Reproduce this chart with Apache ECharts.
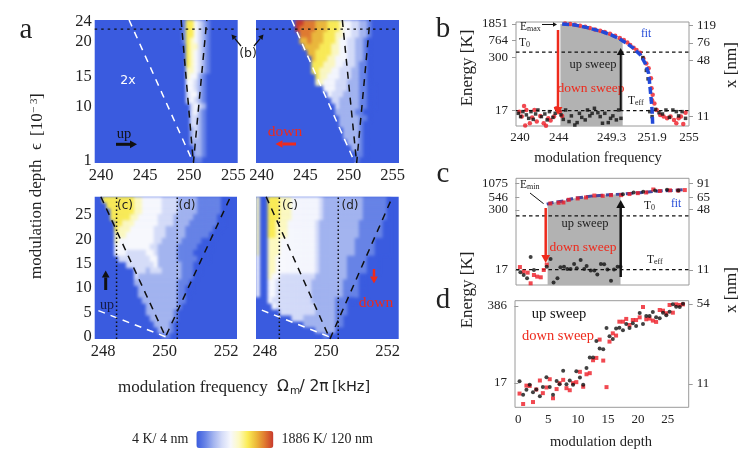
<!DOCTYPE html>
<html>
<head>
<meta charset="utf-8">
<style>
html,body{margin:0;padding:0;background:#fff}
#page{position:relative;width:747px;height:452px;overflow:hidden}
#heatClip{position:absolute;left:0;top:0;width:747px;height:452px;background:#3a5bdf;
	clip-path:path('M94.7 20h143v143h-143z M256 20h143v143h-143z M94.7 196.7h142.3v142.3h-142.3z M256 196.7h142.7v142.3h-142.7z')}
#heat{width:747px;height:452px;filter:blur(1.5px)}
#main{position:absolute;left:0;top:0;width:747px;height:452px}
</style>
<script src="https://cdn.jsdelivr.net/npm/echarts@6/dist/echarts.min.js"></script>
</head>
<body>
<div id="page">
	<div id="heatClip"><div id="heat"></div></div>
	<div id="main"></div>
</div>
<script>
// colour levels of the maps, 0 = cold ... 9 = hot
var levelColors = ['#3a5bdf','#6783e6','#a3b4ef','#d5dcf8','#f7f8fd','#fdf9c0','#fbec55','#ecb83a','#e07a30','#c8382c'];

// maps: first coloured column of each row (top row first) and its levels
var upTopStart = [22,22,22,22,23,23,23,23,23,23,23,23,23,23,24,24,24,24,24,24,24,25,25,25];
var upTopRows = ['1664321','1664321','1664321','1654321','655321','654321','654321','654321','554321','54421','44321','44321','34421','34321','3432','3421','3321','3321','2321','2321','2221','221','221','11'];
var downTopStart = [10,10,11,11,12,13,14,14,14,15,15,17,18,19,20,20,21,21,22,22,23,24,25,25];
var downTopRows = ['9988877766654433221','9888877766654433221','888777666554433221','778777666544332210','77776665544332210','7766665544332210','766655444332210','666555443332110','665554433322110','65544433322110','55444333222110','4443332221100','433322221100','33222221100','3222221100','222221100','22222110','2222210','222210','222210','22210','2210','110','1'];
var upBottomStart = [2,3,4,4,5,5,5,5,5,5,6,8,10,10,10,11,11,12,13,13,14,15,16,17];
var upBottomRows = ['66666666554444433332222211111100','6666666554444433332222211111100','666666554444433332222211111100','66666554444433332222211111100','6655544444433332222111111100','655544444433322222111111100','55544444443332222211111100','5444444444332222211111000','4444444443322222111110000','444333334432222211110000','33333333442222211111000','3333333422222211100','33323332222211100','3222222222221110','222222222221110','22222222221100','2222222222110','22222222211','222222221','22222221','2222221','22221','2221','11'];
var downBottomStart = [0,0,0,0,0,0,0,0,0,0,0,0,0,0,0,0,0,0,4,6,9,12,15,17];
var downBottomRows = ['5006665554444444322222222221111110','5006665554444444322222222221111110','5006665554444444322222222221111110','5006665554444444322222222221111110','5006655544444443222222222211111100','5006655544444443222222222211111100','5006655544444443222222222211111100','5005554444444443222222222111110000','5005554444444443222222222111110000','5005554444444443222222222111110000','4005544444444443222222211111000','4005544444444443222222211111000','4005544444444443222222211111000','4005443333333332222222211100','4004433333333322222222111100','4004433333333322222222111100','4004433333333322222222111100','0004333333333322222211100','4333333333322222111','33333333322222111','3332222222211','2222222211','22222','1'];

// guide lines of the maps [frequency, depth]
var upTopWhite = [[243.17,24.3],[250.47,0.67]];
var upTopBlack = [[249.08,24.3],[250.47,0.67],[251.99,24.3]];
var downTopWhite = [[243.44,24.3],[250.69,0.67]];
var downTopBlack = [[249.24,24.3],[250.88,0.67],[252.4,24.3]];
var cutDepth = 22.8;
var upBottomWhite = [[247.85,5.4],[250.03,0.07]];
var upBottomBlack = [[247.93,28.7],[250.03,0.07],[252.14,28.7]];
var downBottomWhite = [[247.9,5.5],[250.12,0]];
var downBottomBlack = [[248.04,28.7],[250.12,-0.4],[252.16,28.7]];
var upCutC = 248.44, upCutD = 250.41, downCutC = 248.47, downCutD = 250.39;

// tick labels
var topFreqTicks = [240,245,250,255];
var bottomFreqTicks = [248,250,252];
var topDepthPos = [1,3.5,10,15,20.8,24];
var topDepthLabels = ['1','5','10','15','20','24'];
var bottomDepthTicks = [0,5,10,15,20,25];
var bFreqPos = [240.35,243.7,248.3,251.8,255];
var bFreqLabels = ['240','244','249.3','251.9','255'];
var bEnergyTicks = [17,300,764,1851];
var bSizeTicks = [11,48,76,119];
var cEnergyTicks = [17,300,546,1075];
var cSizeTicks = [11,48,65,91];
var dEnergyTicks = [17,386];
var dSizeTicks = [11,54];
var dDepthTicks = [0,5,10,15,20,25];

// panel b
var bBlackFreq = [240.2,240.4,240.6,240.9,241.1,241.3,241.5,241.7,241.9,242.2,242.5,242.7,242.9,243.2,243.4,243.7,243.9,244.1,244.3,244.6,244.8,245.1,245.3,245.5,245.7,246.0,246.2,246.4,246.6,246.8,247.1,247.3,247.5,247.7,248.0,248.2,248.4,248.7,248.9,249.1,251.6,251.8,252.1,252.4,252.7,253.0,253.3,253.6,253.9,254.1,254.4,254.7,251.0,251.3,251.45];
var bBlackEnergy = [14.7,12.3,16.1,13.5,11.2,16.1,10.6,14.2,17.6,12.3,14.2,10.3,16.1,11.8,14.7,17.6,13.5,10.6,17.6,9.4,12.8,7.8,8.9,14.7,11.8,10.3,17.6,12.8,14.7,19.3,15.2,12.3,8.6,14.7,8.9,11.2,12.8,10.3,17.6,11.2,16.1,12.3,18.2,15.2,14.2,17.6,11.8,17.6,16.1,12.8,16.1,11.2,300,150,95];
var bRedFreq = [240.3,240.5,240.7,240.9,240.8,241.2,241.4,241.6,241.8,242.1,242.4,242.6,242.8,243.0,243.3,243.5,243.8,244.0,251.8,252.0,252.2,252.5,252.8,253.1,253.4,253.7,253.9,254.1,254.3,254.5,254.7,244.25,244.7,245.1,245.55,246,246.4,246.85,247.3,247.7,248.15,248.6,249,249.35,249.65,249.9,250.2,250.45,250.75,251.05,251.3,251.5,251.7,251.75,251.85];
var bRedEnergy = [16.1,12.3,21.9,17.6,7.6,8.6,11.8,17.6,9.4,12.8,8.6,7.5,11.2,10,12.3,19.3,16.1,12.8,30,25,17.6,13.5,12.3,11.2,12.3,10.3,8.6,11.2,12.3,8.3,15.2,1900,1840,1777,1681,1593,1483,1378,1283,1195,1091,979,864,775,683,591,512,451,390,287,219,168,98,57,40];
var bFitFreq = [244.0,245.0,246.1,247.3,248.3,249.0,249.6,250.2,250.8,251.2,251.5,251.6,251.7,251.8,251.85];
var bFitEnergy = [1840,1777,1537,1260,1015,818,647,494,344,219,128,68,36,17.6,7.8];
var bGrayFreq = [243.85,245.0,246.1,247.3,248.3,249.0,249.25];
var bGrayEnergy = [1840,1777,1537,1260,1015,818,760];
var bColdLevel = 17, bHotLevel = 405;

// panel c
var cBlackDepth = [0.17,0.73,1.3,1.9,2.45,4.6,5.25,5.75,6.4,6.9,7.5,8.05,8.6,9.2,9.65,10.3,10.9,11.3,12,12.6,13.1,13.7,14.25,14.8,15.4,15.9,16.5,17,17.4,19.2,20.8,22.8,24.8,26.7];
var cBlackEnergy = [15.2,13.4,11.4,31.6,17,19.9,28.7,9.4,11.4,19.3,19.9,17.8,17.8,22.6,18.4,27.4,17.8,20.6,16.7,16.7,13.8,22.6,22.3,17.5,10.2,17.5,19.9,19.9,642,695,720,760,790,765];
var cRedDepth = [0.1,0.73,1.4,1.9,2.45,3,3.6,4.1,4.6,5.2,6.6,7.4,8.3,9.8,11.2,12.6,14,15.4,17.1,18.5,19.9,21.3,22.5,23.6,25.3,26.7,27.8];
var cRedEnergy = [19.6,15.7,15,9,13.4,12.4,12,17,22,410,425,431,490,522,548,600,592,612,612,645,673,695,802,745,770,760,780];
var cFitDepth = [4.6,5.7,7.4,9.05,10.7,12.4,14.1,15.75,17.4,19.1,20.8,22.5,24.1,25.8,27.9];
var cFitEnergy = [398,431,460,522,556,592,612,632,642,673,695,729,752,765,802];
var cGrayDepth = [4.75,5.7,7.4,9.05,10.7,12.4,14.1,15.75,17];
var cGrayEnergy = [398,431,460,522,556,592,612,632,640];
var cColdLevel = 17.4, cHotLevel = 227;

// panel d
var dDepth = [0.2,0.8,1.35,1.9,2.45,3,3.6,4.1,4.7,5.25,5.8,6.4,6.9,7.5,8.05,8.6,9.15,9.7,10.3,10.85,11.4,11.95,12.5,13.05,13.6,14.2,14.75,15.25,15.8,16.35,16.9,17.5,18.05,18.6,19.15,19.7,20.3,20.85,21.4,21.95,22.5,23.05,23.65,24.2,24.75,25.3,25.85,26.4,27,27.55];
var dUpEnergy = [18.2,10.5,12.8,15.7,11.6,13,9.9,14.3,21.4,14.3,10.5,18.4,16.1,27.7,16.1,18.7,15.7,27.3,21.1,15.7,31.2,47.5,47.5,93.3,68.4,66.5,158,113,101,154,160,144,186,158,191,171,290,186,257,257,302,243,234,294,264,306,412,375,370,424];
var dDownEnergy = [11,7.2,15.2,15,7.8,13,18.7,11.2,14.1,19.7,9.1,13.2,16.8,19.2,13.7,12.6,16.8,17.5,26.6,14.5,24.1,25.2,42.6,46.8,98.5,42,14.3,90.8,127,116,204,204,228,178,218,218,243,370,225,231,213,202,328,319,287,401,294,412,401,412];

var serif = '"Liberation Serif"';
var sans = '"DejaVu Sans"';
var ink = '#222';

function zip(a, b) {
	var out = [];
	for (var i = 0; i < a.length; i++) {
		out.push([a[i], b[i]]);
	}
	return out;
}

function heatCells(starts, rows) {
	var cells = [];
	rows.forEach(function(row, r) {
		for (var c = 0; c < row.length; c++) {
			cells.push([starts[r] + c, r, +row[c]]);
		}
	});
	return cells;
}

function numbers(n) {
	var list = [];
	for (var i = 0; i < n; i++) {
		list.push(i);
	}
	return list;
}

var mapGrids = [
	{left: 94.7, top: 20, width: 143, height: 143},
	{left: 256, top: 20, width: 143, height: 143},
	{left: 94.7, top: 196.7, width: 142.3, height: 142.3},
	{left: 256, top: 196.7, width: 142.7, height: 142.3}
];
var plotGrids = [
	{left: 516, top: 22, width: 173, height: 104},
	{left: 516, top: 178.3, width: 173, height: 106.7},
	{left: 515, top: 300.7, width: 173.7, height: 106.6}
];
plotGrids.forEach(function(g) {
	g.show = true;
	g.borderWidth = 1;
	g.borderColor = '#9a9a9a';
});

function mapAxis(grid, min, max, ticks, opts) {
	var labels = opts.labels;
	return {
		type: 'value', gridIndex: grid, min: min, max: max,
		splitLine: {show: false}, axisLine: {show: false}, axisTick: {show: false},
		axisLabel: {
			show: opts.show !== false, showMinLabel: true, showMaxLabel: true,
			customValues: ticks, margin: opts.margin, fontFamily: serif, fontSize: 16.5, color: ink,
			formatter: function(v) { return labels ? labels[ticks.indexOf(v)] : String(v); }
		}
	};
}

function catAxis(grid, n, inverse) {
	return {type: 'category', gridIndex: grid, data: numbers(n), show: false, inverse: !!inverse};
}

function sideAxis(grid, min, max, ticks, position, margin) {
	return {
		type: 'log', logBase: 10, gridIndex: grid, min: min, max: max, position: position,
		splitLine: {show: false}, axisLine: {show: false},
		axisTick: {show: true, length: 4, inside: false, customValues: ticks, lineStyle: {color: '#9a9a9a'}},
		axisLabel: {
			showMinLabel: true, showMaxLabel: true, customValues: ticks, margin: margin,
			fontFamily: serif, fontSize: 13, color: ink,
			formatter: function(v) { return String(Math.round(v)); }
		}
	};
}

var xAxes = [
	mapAxis(0, 239.27, 255.5, topFreqTicks, {margin: 4}),
	mapAxis(1, 239.35, 255.73, topFreqTicks, {margin: 4}),
	mapAxis(2, 247.73, 252.35, bottomFreqTicks, {margin: 4}),
	mapAxis(3, 247.71, 252.36, bottomFreqTicks, {margin: 4}),
	{
		type: 'value', gridIndex: 4, min: 240, max: 255, splitLine: {show: false}, axisLine: {show: false},
		axisTick: {show: false},
		axisLabel: {showMinLabel: true, showMaxLabel: true, customValues: bFreqPos, margin: 5, fontFamily: serif, fontSize: 13, color: ink, formatter: function(v) { return bFreqLabels[bFreqPos.indexOf(v)]; }}
	},
	{type: 'value', gridIndex: 5, min: -0.56, max: 28.5, splitLine: {show: false}, axisLine: {show: false}, axisTick: {show: false}, axisLabel: {show: false}},
	{
		type: 'value', gridIndex: 6, min: -0.56, max: 28.5, splitLine: {show: false}, axisLine: {show: false},
		axisTick: {show: false},
		axisLabel: {showMinLabel: true, showMaxLabel: true, customValues: dDepthTicks, margin: 6, fontFamily: serif, fontSize: 13, color: ink}
	}
];

var yAxes = [
	mapAxis(0, 0.67, 24.3, topDepthPos, {labels: topDepthLabels, margin: 3}),
	mapAxis(1, 0.67, 24.3, topDepthPos, {show: false}),
	mapAxis(2, -0.4, 28.7, bottomDepthTicks, {margin: 3}),
	mapAxis(3, -0.4, 28.7, bottomDepthTicks, {show: false}),
	sideAxis(4, 7.4, 2060, bEnergyTicks, 'left', 8),
	sideAxis(5, 8.3, 1370, cEnergyTicks, 'left', 8),
	sideAxis(6, 6.3, 478, dEnergyTicks, 'left', 8),
	sideAxis(4, 8.6, 131, bSizeTicks, 'right', 8),
	sideAxis(5, 7.6, 103, cSizeTicks, 'right', 8),
	sideAxis(6, 6.9, 57.6, dSizeTicks, 'right', 8)
];

function heat(i, starts, rows) {
	return {
		type: 'heatmap', xAxisIndex: i, yAxisIndex: i, data: heatCells(starts, rows),
		progressive: 0, itemStyle: {borderWidth: 0}, emphasis: {disabled: true}
	};
}

function guide(i, data, color, dash, width, z) {
	return {
		type: 'line', xAxisIndex: i, yAxisIndex: i, data: data, symbol: 'none', silent: true, z: z || 4,
		lineStyle: {color: color, type: dash, width: width}
	};
}

function points(i, xs, ys, shape, color, size, z) {
	return {
		type: 'scatter', xAxisIndex: i, yAxisIndex: i, data: zip(xs, ys), symbol: shape, symbolSize: size,
		itemStyle: {color: color}, z: z, silent: true
	};
}

function grayArea(i, xs, ys) {
	return {
		type: 'line', xAxisIndex: i, yAxisIndex: i, data: zip(xs, ys), symbol: 'none', z: 1, silent: true,
		lineStyle: {width: 0}, areaStyle: {color: '#b2b2b2', opacity: 1, origin: 'start'}
	};
}

var series = [
	guide(0, upTopWhite, '#fff', [7, 6], 1.5),
	guide(0, upTopBlack, '#111', [7, 6], 1.5),
	guide(0, [[239.27, cutDepth], [255.5, cutDepth]], '#111', [2.5, 4], 1.3),
	guide(1, downTopWhite, '#fff', [7, 6], 1.5),
	guide(1, downTopBlack, '#111', [7, 6], 1.5),
	guide(1, [[239.35, cutDepth], [255.73, cutDepth]], '#111', [2.5, 4], 1.3),
	guide(2, upBottomWhite, '#fff', [7, 6], 1.5),
	guide(2, upBottomBlack, '#111', [7, 6], 1.5),
	guide(2, [[upCutC, -0.4], [upCutC, 28.7]], '#111', [1.5, 2.5], 1.5),
	guide(2, [[upCutD, -0.4], [upCutD, 28.7]], '#111', [1.5, 2.5], 1.5),
	guide(3, downBottomWhite, '#fff', [7, 6], 1.5),
	guide(3, downBottomBlack, '#111', [7, 6], 1.5),
	guide(3, [[downCutC, -0.4], [downCutC, 28.7]], '#111', [1.5, 2.5], 1.5),
	guide(3, [[downCutD, -0.4], [downCutD, 28.7]], '#111', [1.5, 2.5], 1.5),

	grayArea(4, bGrayFreq, bGrayEnergy),
	guide(4, [[240, bHotLevel], [255, bHotLevel]], '#111', [3.5, 3], 1.2),
	guide(4, [[240, bColdLevel], [255, bColdLevel]], '#111', [3.5, 3], 1.2),
	points(4, bRedFreq, bRedEnergy, 'circle', '#ee1c25', 4.5, 5),
	points(4, bBlackFreq, bBlackEnergy, 'rect', '#111', 3.5, 6),
	guide(4, zip(bFitFreq, bFitEnergy), '#2249d8', [7, 3], 3.5, 7),

	grayArea(5, cGrayDepth, cGrayEnergy),
	guide(5, [[-0.56, cHotLevel], [28.5, cHotLevel]], '#111', [3.5, 3], 1.2),
	guide(5, [[-0.56, cColdLevel], [28.5, cColdLevel]], '#111', [3.5, 3], 1.2),
	points(5, cRedDepth, cRedEnergy, 'rect', '#ee1c25', 4, 5),
	guide(5, zip(cFitDepth, cFitEnergy), '#45489f', [7, 3], 3, 5),
	points(5, cBlackDepth, cBlackEnergy, 'circle', '#111', 4, 6),

	points(6, dDepth, dDownEnergy, 'rect', '#ee1c25', 4, 5),
	points(6, dDepth, dUpEnergy, 'circle', '#111', 4, 6)
];

// annotations placed on the page
function txt(str, x, y, size, color, font, rotated, align) {
	return {
		type: 'text', x: x, y: y, rotation: rotated ? Math.PI / 2 : 0, silent: true, z: 20,
		style: {text: str, fontFamily: font || serif, fontSize: size, fill: color || ink, align: align || 'center', verticalAlign: 'middle'}
	};
}

function arrow(x1, y1, x2, y2, color, width, head) {
	var a = Math.atan2(y2 - y1, x2 - x1);
	var bx = x2 - Math.cos(a) * head, by = y2 - Math.sin(a) * head;
	var nx = -Math.sin(a) * head * 0.55, ny = Math.cos(a) * head * 0.55;
	return [
		{type: 'line', silent: true, z: 20, shape: {x1: x1, y1: y1, x2: bx, y2: by}, style: {stroke: color, lineWidth: width}},
		{type: 'polygon', silent: true, z: 20, shape: {points: [[x2, y2], [bx + nx, by + ny], [bx - nx, by - ny]]}, style: {fill: color}}
	];
}

var redText = '#ee2a1c';
var marks = [
	txt('a', 26, 30, 29), txt('b', 443, 29, 29), txt('c', 443, 174, 29), txt('d', 443, 300, 29),

	txt('modulation depth', 37, 279, 17, ink, serif, true, 'left'),
	txt('ϵ', 37, 150, 17, ink, serif, true, 'left'),
	txt('[10', 38, 136, 17, ink, serif, true, 'left'),
	txt('− 3', 34, 113, 11, ink, serif, true, 'left'),
	txt(']', 38, 99, 17, ink, serif, true, 'left'),

	txt('modulation frequency', 118, 388, 17, ink, serif, false, 'left'),
	txt('Ω', 283, 387, 15.5, ink, sans),
	txt('m', 295, 391, 10.5, ink, sans),
	txt('/', 302, 387, 15.5, ink, sans),
	txt('2π', 319, 387, 15.5, ink, sans),
	txt('[kHz]', 351, 387, 14.5, ink, sans),

	txt('2x', 128, 81, 12.5, '#fff', sans),
	txt('up', 124, 134, 14.5, '#111'),
	txt('down', 285, 132, 15.5, redText),
	txt('(b)', 248, 54, 12.5, ink, sans),
	txt('(c)', 125, 206, 12, ink, sans), txt('(d)', 187, 206, 12, ink, sans),
	txt('(c)', 290, 206, 12, ink, sans), txt('(d)', 350, 206, 12, ink, sans),
	txt('up', 107, 305, 14, '#151a45'),
	txt('down', 376, 303, 15.5, redText),

	txt('Energy [K]', 468, 68, 17, ink, serif, true),
	txt('x [nm]', 732, 65, 17, ink, serif, true),
	txt('modulation frequency', 598, 158, 14.5),
	txt('E', 520, 27, 11.5, ink, serif, false, 'left'), txt('max', 527, 29, 8, ink, serif, false, 'left'),
	txt('T', 519, 43, 11.5, ink, serif, false, 'left'), txt('0', 526, 45, 8, ink, serif, false, 'left'),
	txt('fit', 646, 34, 11.5, '#2249d8'),
	txt('up sweep', 593, 65, 12.5),
	txt('down sweep', 591, 88, 13.5, redText),
	txt('T', 628, 101, 11.5, ink, serif, false, 'left'), txt('eff', 635, 103, 8, ink, serif, false, 'left'),

	txt('E', 520, 185, 11.5, ink, serif, false, 'left'), txt('min', 527, 187, 8, ink, serif, false, 'left'),
	txt('T', 644, 206, 11.5, ink, serif, false, 'left'), txt('0', 651, 208, 8, ink, serif, false, 'left'),
	txt('fit', 676, 204, 11.5, '#2249d8'),
	txt('up sweep', 585, 224, 12.5),
	txt('down sweep', 583, 247, 13.5, redText),
	txt('T', 647, 260, 11.5, ink, serif, false, 'left'), txt('eff', 654, 262, 8, ink, serif, false, 'left'),
	txt('Energy [K]', 468, 290, 17, ink, serif, true),
	txt('x [nm]', 732, 290, 17, ink, serif, true),

	txt('up sweep', 559, 314, 14.5, '#111'),
	txt('down sweep', 558, 336, 14.5, redText),
	txt('modulation depth', 601, 442, 14.5)
].concat(
	arrow(116, 144.3, 137, 144.3, '#111', 3, 7),
	arrow(296, 144, 275.5, 144, redText, 3, 7),
	arrow(241, 46, 231.5, 34.5, '#111', 1.2, 5),
	arrow(254, 46, 263.5, 34.5, '#111', 1.2, 5),
	arrow(105.7, 290, 105.7, 270.5, '#111', 3, 7),
	arrow(374, 269, 374, 283.5, redText, 2.5, 7),
	arrow(542, 24.5, 557, 24.5, '#111', 1, 4),
	arrow(558, 30, 558, 115, redText, 2.5, 8),
	arrow(620.7, 110, 620.7, 48, '#111', 2, 7),
	arrow(530, 193, 544, 204, '#111', 1, 1),
	arrow(545.7, 208, 545.7, 263, redText, 2.5, 8),
	arrow(620.7, 277, 620.7, 200, '#111', 2.5, 8)
);

// the maps sit in their own softened layer under the main chart
var heatChart = echarts.init(document.getElementById('heat'));
heatChart.setOption({
	animation: false,
	grid: mapGrids,
	xAxis: [catAxis(0, 36), catAxis(1, 36), catAxis(2, 36), catAxis(3, 36)],
	yAxis: [catAxis(0, 24, true), catAxis(1, 24, true), catAxis(2, 24, true), catAxis(3, 24, true)],
	visualMap: {show: false, min: 0, max: 9, dimension: 2, inRange: {color: levelColors}},
	series: [
		heat(0, upTopStart, upTopRows),
		heat(1, downTopStart, downTopRows),
		heat(2, upBottomStart, upBottomRows),
		heat(3, downBottomStart, downBottomRows)
	]
});

var chart = echarts.init(document.getElementById('main'));
chart.setOption({
	animation: false,
	grid: mapGrids.concat(plotGrids),
	xAxis: xAxes,
	yAxis: yAxes,
	visualMap: {
		type: 'continuous', min: 0, max: 9, seriesIndex: [], dimension: 2, calculable: false, show: true,
		orient: 'horizontal', left: 117, top: 416, itemWidth: 17, itemHeight: 77, textGap: 8,
		text: ['1886 K/ 120 nm', '4 K/ 4 nm'],
		textStyle: {fontFamily: serif, fontSize: 14, color: ink},
		inRange: {color: levelColors}
	},
	series: series,
	graphic: {elements: marks}
});
</script>
</body>
</html>
